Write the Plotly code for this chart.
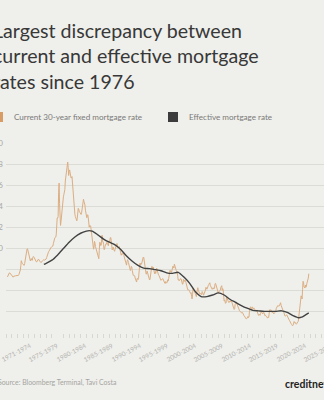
import numpy as np
import plotly.graph_objects as go

# Freddie Mac 30-year fixed rate, monthly averages (%), Apr 1971 - Oct 2023
fixed_start_year = 1971
fixed_start_month = 4
fixed_rate_by_year = [
    [7.31, 7.43, 7.53, 7.60, 7.70, 7.69, 7.63, 7.55, 7.48],                      # 1971
    [7.44, 7.33, 7.29, 7.29, 7.37, 7.40, 7.40, 7.41, 7.42, 7.43, 7.43, 7.44],    # 1972
    [7.44, 7.44, 7.46, 7.54, 7.65, 7.73, 7.97, 8.39, 8.85, 8.71, 8.58, 8.54],    # 1973
    [8.54, 8.46, 8.41, 8.58, 8.97, 9.09, 9.28, 9.59, 9.96, 9.98, 9.79, 9.62],    # 1974
    [9.43, 9.10, 8.89, 8.82, 8.99, 9.05, 8.90, 8.89, 9.16, 9.25, 9.22, 9.14],    # 1975
    [9.02, 8.86, 8.81, 8.76, 8.73, 8.83, 8.91, 8.99, 9.00, 8.91, 8.80, 8.78],    # 1976
    [8.72, 8.67, 8.69, 8.75, 8.83, 8.86, 8.94, 8.94, 8.90, 8.92, 8.96, 8.99],    # 1977
    [9.01, 9.15, 9.35, 9.44, 9.66, 9.70, 9.76, 9.88, 9.90, 9.97, 10.09, 10.15],  # 1978
    [10.20, 10.25, 10.24, 10.46, 10.82, 11.00, 11.01, 11.06, 11.09, 11.30, 12.60, 12.90],  # 1979
    [12.88, 13.04, 15.28, 16.20, 14.26, 12.71, 12.19, 12.56, 13.20, 13.79, 14.21, 14.79],  # 1980
    [14.90, 15.13, 15.40, 15.58, 16.40, 16.70, 16.83, 17.29, 17.90, 18.20, 17.70, 16.92],  # 1981
    [17.30, 17.45, 17.16, 16.89, 16.68, 16.70, 16.82, 16.27, 15.43, 14.61, 13.82, 13.62],  # 1982
    [13.25, 13.04, 12.80, 12.78, 12.63, 12.87, 13.42, 13.81, 13.73, 13.54, 13.44, 13.42],  # 1983
    [13.37, 13.23, 13.39, 13.65, 13.94, 14.42, 14.67, 14.47, 14.35, 14.13, 13.64, 13.18],  # 1984
    [13.08, 12.92, 13.17, 13.20, 12.91, 12.22, 12.03, 12.19, 12.19, 12.14, 11.78, 11.26],  # 1985
    [10.88, 10.71, 10.08, 9.94, 10.14, 10.68, 10.51, 10.20, 10.01, 9.98, 9.70, 9.32],      # 1986
    [9.20, 9.08, 9.04, 9.83, 10.60, 10.54, 10.28, 10.33, 10.89, 11.26, 10.65, 10.64],      # 1987
    [10.38, 9.89, 9.93, 10.20, 10.46, 10.46, 10.43, 10.60, 10.48, 10.30, 10.27, 10.61],    # 1988
    [10.73, 10.65, 11.03, 11.05, 10.77, 10.20, 9.88, 9.99, 10.13, 9.95, 9.77, 9.74],       # 1989
    [9.90, 10.20, 10.27, 10.37, 10.48, 10.16, 10.04, 10.10, 10.18, 10.18, 9.95, 9.66],     # 1990
    [9.64, 9.37, 9.50, 9.49, 9.47, 9.62, 9.58, 9.24, 9.01, 8.86, 8.71, 8.50],              # 1991
    [8.43, 8.76, 8.94, 8.85, 8.67, 8.51, 8.13, 7.98, 7.92, 8.09, 8.31, 8.22],              # 1992
    [7.91, 7.47, 7.46, 7.46, 7.47, 7.42, 7.21, 7.11, 6.91, 6.83, 7.16, 7.17],              # 1993
    [7.06, 7.15, 7.68, 8.32, 8.60, 8.40, 8.61, 8.51, 8.64, 8.93, 9.17, 9.20],              # 1994
    [9.15, 8.83, 8.46, 8.32, 7.96, 7.57, 7.61, 7.86, 7.64, 7.48, 7.38, 7.20],              # 1995
    [7.03, 7.08, 7.62, 7.93, 8.07, 8.32, 8.25, 8.00, 8.23, 7.92, 7.62, 7.60],              # 1996
    [7.82, 7.65, 7.90, 8.14, 7.94, 7.69, 7.50, 7.48, 7.43, 7.29, 7.21, 7.10],              # 1997
    [6.99, 7.04, 7.13, 7.14, 7.14, 7.00, 6.95, 6.92, 6.72, 6.71, 6.87, 6.72],              # 1998
    [6.79, 6.81, 7.04, 6.92, 7.15, 7.55, 7.63, 7.94, 7.82, 7.85, 7.74, 7.91],              # 1999
    [8.21, 8.33, 8.24, 8.15, 8.52, 8.29, 8.15, 8.03, 7.91, 7.80, 7.75, 7.38],              # 2000
    [7.03, 7.05, 6.95, 7.08, 7.15, 7.16, 7.13, 6.95, 6.82, 6.62, 6.66, 7.07],              # 2001
    [7.00, 6.89, 7.01, 6.99, 6.81, 6.65, 6.49, 6.29, 6.09, 6.11, 6.07, 6.05],              # 2002
    [5.92, 5.84, 5.75, 5.81, 5.48, 5.23, 5.63, 6.26, 6.15, 5.95, 5.93, 5.88],              # 2003
    [5.71, 5.64, 5.45, 5.83, 6.27, 6.29, 6.06, 5.87, 5.75, 5.72, 5.73, 5.75],              # 2004
    [5.71, 5.63, 5.93, 5.86, 5.72, 5.58, 5.70, 5.82, 5.77, 6.07, 6.33, 6.27],              # 2005
    [6.15, 6.25, 6.32, 6.51, 6.60, 6.68, 6.76, 6.52, 6.40, 6.36, 6.24, 6.14],              # 2006
    [6.22, 6.29, 6.16, 6.18, 6.26, 6.66, 6.70, 6.57, 6.38, 6.38, 6.21, 6.10],              # 2007
    [5.76, 5.92, 5.97, 5.92, 6.04, 6.32, 6.43, 6.48, 6.04, 6.20, 6.09, 5.33],              # 2008
    [5.06, 5.13, 5.00, 4.81, 4.86, 5.42, 5.22, 5.19, 5.06, 4.95, 4.88, 4.93],              # 2009
    [5.03, 4.99, 4.97, 5.10, 4.89, 4.74, 4.56, 4.43, 4.35, 4.23, 4.30, 4.71],              # 2010
    [4.76, 4.95, 4.84, 4.84, 4.64, 4.51, 4.55, 4.27, 4.11, 4.07, 3.99, 3.96],              # 2011
    [3.92, 3.89, 3.95, 3.91, 3.80, 3.68, 3.55, 3.60, 3.50, 3.38, 3.35, 3.35],              # 2012
    [3.41, 3.53, 3.57, 3.45, 3.54, 4.07, 4.37, 4.46, 4.49, 4.19, 4.26, 4.46],              # 2013
    [4.43, 4.30, 4.34, 4.34, 4.19, 4.16, 4.13, 4.12, 4.16, 4.04, 4.00, 3.86],              # 2014
    [3.67, 3.71, 3.77, 3.67, 3.84, 3.98, 4.05, 3.91, 3.89, 3.80, 3.94, 3.96],              # 2015
    [3.87, 3.66, 3.69, 3.61, 3.60, 3.57, 3.44, 3.44, 3.46, 3.47, 3.77, 4.20],              # 2016
    [4.15, 4.17, 4.20, 4.05, 4.01, 3.90, 3.97, 3.88, 3.81, 3.90, 3.92, 3.95],              # 2017
    [4.03, 4.33, 4.44, 4.47, 4.59, 4.57, 4.53, 4.55, 4.63, 4.83, 4.87, 4.64],              # 2018
    [4.46, 4.37, 4.27, 4.14, 4.07, 3.80, 3.77, 3.62, 3.61, 3.69, 3.70, 3.72],              # 2019
    [3.62, 3.47, 3.45, 3.31, 3.23, 3.16, 3.02, 2.94, 2.89, 2.83, 2.77, 2.68],              # 2020
    [2.74, 2.81, 3.08, 3.06, 2.96, 2.98, 2.87, 2.84, 2.90, 3.07, 3.07, 3.10],              # 2021
    [3.45, 3.76, 4.17, 4.98, 5.23, 5.52, 5.41, 5.22, 6.11, 6.90, 6.81, 6.36],              # 2022
    [6.27, 6.26, 6.54, 6.34, 6.43, 6.71, 6.84, 7.07, 7.20, 7.62],                          # 2023
]

# Effective rate on outstanding mortgages (%)
effective_years = [
    1977.6, 1978, 1979, 1980, 1981, 1982, 1983, 1984, 1985, 1985.5, 1986, 1987,
    1988, 1989, 1990, 1991, 1992, 1993, 1994, 1995, 1996, 1997, 1998, 1999,
    2000, 2001, 2002, 2003, 2004, 2005, 2006, 2007, 2008, 2009, 2010, 2011,
    2012, 2013, 2014, 2015, 2016, 2017, 2018, 2019, 2020, 2021, 2022, 2022.5,
    2023, 2023.75,
]
effective_rate = [
    8.5, 8.6, 8.9, 9.4, 10.0, 10.6, 11.1, 11.45, 11.65, 11.7, 11.65, 11.3,
    10.9, 10.6, 10.35, 9.9, 9.3, 8.8, 8.4, 8.15, 8.1, 8.0, 7.9, 7.7,
    7.65, 7.75, 7.3, 6.7, 5.9, 5.45, 5.45, 5.6, 5.8, 5.6, 5.2, 4.9,
    4.6, 4.35, 4.15, 4.1, 4.05, 4.05, 4.05, 4.1, 3.95, 3.65, 3.45, 3.5,
    3.65, 3.9,
]

period_labels = [
    "1971-1974", "1975-1979", "1980-1984", "1985-1989", "1990-1994", "1995-1999",
    "2000-2004", "2005-2009", "2010-2014", "2015-2019", "2020-2024", "2025-2029",
]
y_ticks = [2, 4, 6, 8, 10, 12, 14, 16, 18, 20]

series_names = ["Current 30-year fixed mortgage rate", "Effective mortgage rate"]
title_text = "Largest discrepancy between<br>current and effective mortgage<br>rates since 1976"
source_text = "Source: Bloomberg Terminal, Tavi Costa"
brand_text = "creditnews"

# ---- flatten the monthly series onto a decimal-year axis ----
fixed_rate = [v for year in fixed_rate_by_year for v in year]
fixed_x = [fixed_start_year + (fixed_start_month - 1 + i) / 12 for i in range(len(fixed_rate))]

# ---- styling ----
W, H = 324, 400
L_M, R_M, T_M, B_M = 6, 0, 143, 67
BG = "#efefeb"
GRID = "#dcdcd6"
ORANGE = "#dcae82"
ORANGE_KEY = "#d89c66"
DARK = "#424242"
FONT = "Lato"

fig = go.Figure()
fig.add_trace(go.Scatter(
    x=fixed_x, y=fixed_rate, mode="lines", name=series_names[0],
    line=dict(color=ORANGE, width=1.0), showlegend=False,
))
fig.add_trace(go.Scatter(
    x=effective_years, y=effective_rate, mode="lines", name=series_names[1],
    line=dict(color=DARK, width=1.4, shape="spline", smoothing=0.6), showlegend=False,
))

annotations = []
shapes = []


def px_note(text, px, py, size, color, xanchor="left", yanchor="middle", bold=False):
    """Place a text note at an absolute pixel position on the page."""
    annotations.append(dict(
        text=f"<b>{text}</b>" if bold else text,
        xref="paper", yref="paper", x=0, y=1,
        xshift=px - L_M, yshift=T_M - py,
        xanchor=xanchor, yanchor=yanchor, showarrow=False, align="left",
        font=dict(family=FONT, size=size, color=color),
    ))


# title block
px_note(title_text, -9, 17, 19.6, "#383838", yanchor="top")

# legend keys
for (sx, name, col) in [(-7, series_names[0], ORANGE_KEY), (168, series_names[1], "#3c3c3c")]:
    shapes.append(dict(
        type="rect", xref="paper", yref="paper", xsizemode="pixel", ysizemode="pixel",
        xanchor=0, yanchor=1, x0=sx - L_M, x1=sx - L_M + 10,
        y0=T_M - 112, y1=T_M - 122, fillcolor=col, line=dict(width=0),
    ))
    px_note(name, sx + 19, 117, 8.1, "#7a7a78")

# period labels under the time axis, evenly spread over the span
label_x = np.linspace(1972.7, 2025.4, len(period_labels))
for lx, lab in zip(label_x, period_labels):
    annotations.append(dict(
        text=lab, xref="x", yref="paper", x=float(lx), y=0, yshift=-19,
        xanchor="center", yanchor="middle", textangle=-28, showarrow=False,
        font=dict(family=FONT, size=6.4, color="#b4b4b0"),
    ))

# footer
px_note(source_text, -4, 382, 6.9, "#a5a5a2")
px_note(brand_text, 283, 384, 10.5, "#222222", bold=True)

fig.update_layout(
    width=W, height=H,
    margin=dict(l=L_M, r=R_M, t=T_M, b=B_M, pad=0),
    paper_bgcolor=BG, plot_bgcolor=BG,
    annotations=annotations, shapes=shapes,
    showlegend=False,
)
fig.update_xaxes(
    range=[1971.0, 2026.4], showgrid=False, zeroline=False, showline=False,
    showticklabels=False, ticks="",
    minor=dict(tickmode="linear", tick0=1971, dtick=1, ticks="outside",
               ticklen=4, tickwidth=1, tickcolor="#d8d8d3", showgrid=False),
)
fig.update_yaxes(
    range=[2, 20], tickmode="array", tickvals=y_ticks,
    # single digits padded with a figure space so the labels line up on the left
    ticktext=[f"{v}" if v >= 10 else f"{v}\u2007" for v in y_ticks],
    showgrid=True, gridcolor=GRID, gridwidth=1.3, zeroline=False, showline=False,
    ticks="", tickfont=dict(family=FONT, size=8, color="#a8a8a4"),
    automargin=False, ticklabelstandoff=2,
)

fig.write_html("out.html")
